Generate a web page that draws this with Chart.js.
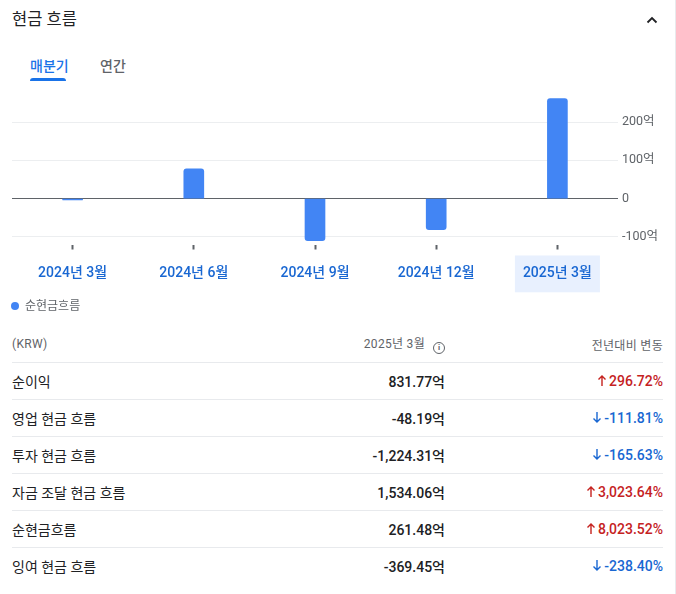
<!DOCTYPE html>
<html lang="ko">
<head>
<meta charset="utf-8">
<script src="https://cdn.jsdelivr.net/npm/chart.js@4.4.1/dist/chart.umd.min.js"></script>
<style>
    body {
        margin: 0;
        width: 676px;
        height: 594px;
        background: #fff;
        font-family: Roboto, 'Noto Sans CJK KR', sans-serif;
        color: #202124;
        position: relative;
        overflow: hidden;
    }
    .card {
        position: absolute;
        left: 0; top: 0;
        width: 675px; height: 594px;
        border-right: 1px solid #e8eaed;
    }
    .title {
        position: absolute;
        left: 12px; top: 8px;
        font-size: 16.5px;
        line-height: 24px;
    }
    .chevron {
        position: absolute;
        left: 644px; top: 12px;
    }
    .tab {
        position: absolute;
        top: 56px;
        font-size: 14px;
        line-height: 20px;
        font-weight: 500;
    }
    .tab.active { left: 30px; color: #1a73e8; }
    .tab.other { left: 100px; color: #5f6368; }
    .underline {
        position: absolute;
        left: 30px; top: 78px;
        width: 36px; height: 3px;
        background: #1a73e8;
        border-radius: 3px 3px 0 0;
    }
    #chartBox {
        position: absolute;
        left: 0; top: 80px;
        width: 676px; height: 220px;
    }
    .legend {
        position: absolute;
        left: 11px; top: 297px;
        font-size: 12px;
        line-height: 18px;
        color: #5f6368;
    }
    .legend .dot {
        display: inline-block;
        width: 8px; height: 8px;
        border-radius: 50%;
        background: #4285f4;
        margin-right: 6px;
        vertical-align: 0px;
    }
    table {
        position: absolute;
        left: 12px; top: 326px;
        width: 651px;
        border-collapse: collapse;
        table-layout: fixed;
    }
    th {
        font-size: 12px;
        font-weight: 400;
        color: #5f6368;
        height: 36px;
        border-bottom: 1px solid #e8eaed;
        padding: 0;
        text-align: right;
        letter-spacing: 0.3px;
    }
    th:first-child { text-align: left; }
    td {
        font-size: 14px;
        height: 36px;
        border-bottom: 1px solid #e8eaed;
        padding: 0;
        text-align: right;
        font-weight: 500;
    }
    td:first-child { text-align: left; font-weight: 400; }
    tr:last-child td { border-bottom: none; }
    .up { color: #c5221f; }
    .down { color: #1967d2; }
    .info {
        display: inline-block;
        width: 10px; height: 10px;
        border: 1.3px solid #5f6368;
        border-radius: 50%;
        font-size: 8px;
        line-height: 10px;
        text-align: center;
        font-weight: 700;
        margin-left: 8px;
        vertical-align: -2px;
        letter-spacing: 0;
    }
    .arrow { margin-right: 2px; vertical-align: -1px; }
</style>
</head>
<body>
<div class="card">
    <div class="title">현금 흐름</div>
    <svg class="chevron" width="16" height="16" viewBox="0 0 16 16">
        <path d="M3.5 10.5 L8 6 L12.5 10.5" fill="none" stroke="#202124" stroke-width="1.8"/>
    </svg>
    <div class="tab active">매분기</div>
    <div class="tab other">연간</div>
    <div class="underline"></div>

    <div id="chartBox"><canvas id="myChart"></canvas></div>

    <div class="legend"><span class="dot"></span>순현금흐름</div>

    <table id="cashTable">
        <colgroup><col style="width:250px"><col style="width:183px"><col style="width:218px"></colgroup>
    </table>
</div>

<script>
// 분기별 순현금흐름 (억 KRW)
let quarters = ['2024년 3월', '2024년 6월', '2024년 9월', '2024년 12월', '2025년 3월'];
let netCashFlow = [-3.3, 78, -110, -81, 261.48];
let yTickValues = [-100, 0, 100, 200];

// 표 데이터 (2025년 3월)
let rowLabels = ['순이익', '영업 현금 흐름', '투자 현금 흐름', '자금 조달 현금 흐름', '순현금흐름', '잉여 현금 흐름'];
let rowValues = ['831.77억', '-48.19억', '-1,224.31억', '1,534.06억', '261.48억', '-369.45억'];
let rowChanges = [296.72, -111.81, -165.63, 3023.64, 8023.52, -238.40];

function fmtPct(v) {
    return v.toLocaleString('en-US', { minimumFractionDigits: 2, maximumFractionDigits: 2 }) + '%';
}

function arrowSvg(up, color) {
    let d = up ? 'M5 12 V2 M1.5 5.5 L5 2 L8.5 5.5' : 'M5 1 V11 M1.5 7.5 L5 11 L8.5 7.5';
    return '<svg class="arrow" width="10" height="13" viewBox="0 0 10 13"><path d="' + d +
        '" fill="none" stroke="' + color + '" stroke-width="1.4"/></svg>';
}

let html = '<tr><th>(KRW)</th><th>2025년 3월<span class="info">i</span></th><th>전년대비 변동</th></tr>';
for (let i = 0; i < rowLabels.length; i++) {
    let up = rowChanges[i] >= 0;
    html += '<tr><td>' + rowLabels[i] + '</td><td>' + rowValues[i] + '</td>' +
        '<td class="' + (up ? 'up' : 'down') + '">' + arrowSvg(up, up ? '#c5221f' : '#1967d2') +
        fmtPct(rowChanges[i]) + '</td></tr>';
}
document.getElementById('cashTable').insertAdjacentHTML('beforeend', html);

let ctx = document.getElementById('myChart');

new Chart(ctx, {
    type: 'bar',
    data: {
        labels: quarters,
        datasets: [{
            label: '순현금흐름',
            data: netCashFlow,
            backgroundColor: '#4285f4',
            barThickness: 20,
            borderRadius: 3,
            borderSkipped: 'start'
        }]
    },
    options: {
        responsive: true,
        maintainAspectRatio: false,
        animation: false,
        layout: {
            padding: { left: 12, top: 8.5, right: 0, bottom: 0 }
        },
        plugins: {
            legend: { display: false },
            tooltip: { enabled: false }
        },
        scales: {
            x: {
                grid: {
                    color: 'transparent',
                    tickColor: '#5f6368',
                    tickLength: 5,
                    tickWidth: 2,
                    offset: false
                },
                border: { display: false },
                ticks: {
                    color: '#1967d2',
                    padding: 16,
                    font: { size: 14, weight: '500', family: "Roboto, 'Noto Sans CJK KR'" },
                    showLabelBackdrop: (c) => c.index === quarters.length - 1,
                    backdropColor: '#e8f0fe',
                    backdropPadding: { x: 8, y: 10 }
                },
                afterFit: (scale) => { scale.height = 55.5; }
            },
            y: {
                position: 'right',
                min: -120,
                max: 280,
                afterBuildTicks: (scale) => {
                    scale.ticks = yTickValues.map(v => ({ value: v }));
                },
                afterFit: (scale) => { scale.width = 58; },
                grid: {
                    color: (c) => c.tick && c.tick.value === 0 ? '#5f6368' : '#eceef0',
                    drawTicks: false
                },
                border: { display: false },
                ticks: {
                    color: '#5f6368',
                    padding: 4,
                    font: { size: 12.5, family: "Roboto, 'Noto Sans CJK KR'" },
                    callback: (v) => v === 0 ? '0' : v + '억'
                }
            }
        }
    }
});
</script>
</body>
</html>
